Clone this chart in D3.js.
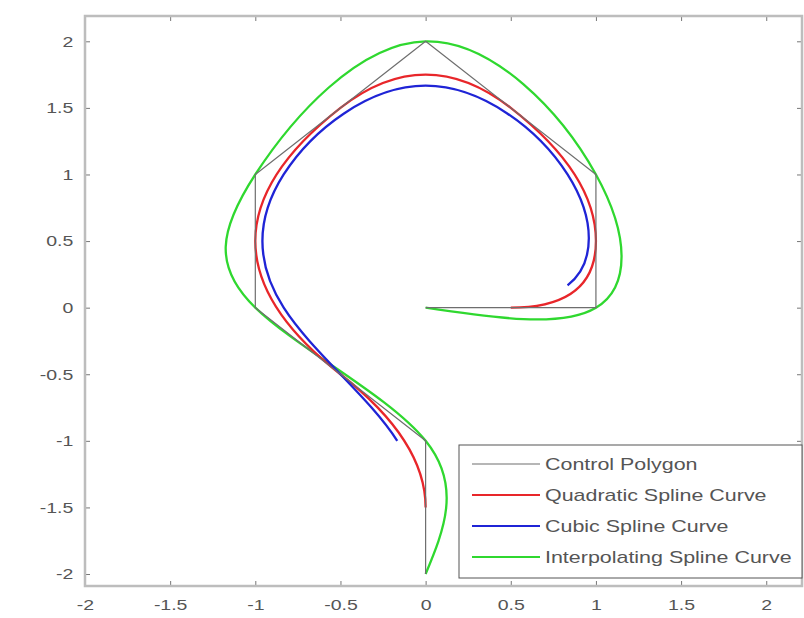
<!DOCTYPE html>
<html>
<head>
<meta charset="utf-8">
<script src="https://cdn.jsdelivr.net/npm/d3@7"></script>
<style>
  body { margin: 0; background: #fff; }
  svg { display: block; font-family: "Liberation Sans", Arial, sans-serif; }
</style>
</head>
<body>
<div id="chart"></div>
<script>
// control points of the polygon
const ctrlX = [0, 1, 1, 0, -1, -1, 0, 0];
const ctrlY = [0, 0, 1, 2, 1, 0, -1, -2];

const xTicks = [-2, -1.5, -1, -0.5, 0, 0.5, 1, 1.5, 2];
const yTicks = [-2, -1.5, -1, -0.5, 0, 0.5, 1, 1.5, 2];

const seriesNames = ["Control Polygon", "Quadratic Spline Curve", "Cubic Spline Curve", "Interpolating Spline Curve"];
const seriesColors = ["#6e6e6e", "#e8262a", "#1f24d6", "#2fd82f"];

(function() {
  const W = 804, H = 618;
  const box = {left: 85, right: 802, top: 16, bottom: 586};
  const stretch = 1.3; // the picture is wider than tall, text too

  const svg = d3.select("#chart").append("svg")
      .attr("width", W)
      .attr("height", H);

  const x = d3.scaleLinear().domain([-2, 2.21]).range([box.left, box.right]);
  const y = d3.scaleLinear().domain([-2.09, 2.19]).range([box.bottom, box.top]);

  const pts = ctrlX.map((d, i) => [d, ctrlY[i]]);

  // uniform quadratic B-spline as a d3 curve
  function QuadBSpline(context) { this._context = context; }
  QuadBSpline.prototype = {
    areaStart() {}, areaEnd() {},
    lineStart() { this._p = []; },
    point(px, py) { this._p.push([px, py]); },
    lineEnd() {
      const p = this._p, c = this._context;
      if (p.length < 3) return;
      c.moveTo((p[0][0] + p[1][0]) / 2, (p[0][1] + p[1][1]) / 2);
      for (let i = 1; i < p.length - 1; i++) {
        c.quadraticCurveTo(p[i][0], p[i][1], (p[i][0] + p[i + 1][0]) / 2, (p[i][1] + p[i + 1][1]) / 2);
      }
    }
  };
  const curveQuad = ctx => new QuadBSpline(ctx);

  const curves = [d3.curveLinear, curveQuad, d3.curveBasisOpen, d3.curveNatural];
  const widths = [1.2, 2.3, 2.3, 2.3];

  svg.append("clipPath").attr("id", "clip")
    .append("rect")
      .attr("x", box.left).attr("y", box.top)
      .attr("width", box.right - box.left).attr("height", box.bottom - box.top);

  const plot = svg.append("g").attr("clip-path", "url(#clip)");

  [3, 1, 2, 0].forEach(k => {
    plot.append("path")
      .datum(pts)
      .attr("d", d3.line()
        .x(d => x(d[0]))
        .y(d => y(d[1]))
        .curve(curves[k]))
      .attr("fill", "none")
      .attr("stroke", seriesColors[k])
      .attr("stroke-width", widths[k])
      .attr("stroke-linejoin", "round");
  });

  // axes (MATLAB style: ticks inside on all four sides)
  const axisColor = "#bdbdbd";
  const labelColor = "#555";
  const fmt = d => String(d);

  svg.append("g")
    .attr("transform", `translate(0,${box.bottom})`)
    .call(d3.axisBottom(x).tickValues(xTicks).tickSize(-5).tickPadding(13).tickSizeOuter(0).tickFormat(fmt))
    .call(g => g.select(".domain").remove());

  svg.append("g")
    .attr("transform", `translate(0,${box.top})`)
    .call(d3.axisTop(x).tickValues(xTicks).tickSize(-5).tickFormat(""))
    .call(g => g.select(".domain").remove());

  svg.append("g")
    .attr("transform", `translate(${box.left},0)`)
    .call(d3.axisLeft(y).tickValues(yTicks).tickSize(-5).tickPadding(9).tickFormat(fmt))
    .call(g => g.select(".domain").remove());

  svg.append("g")
    .attr("transform", `translate(${box.right},0)`)
    .call(d3.axisRight(y).tickValues(yTicks).tickSize(-5).tickFormat(""))
    .call(g => g.select(".domain").remove());

  svg.selectAll(".tick line").attr("stroke", "#777").attr("stroke-width", 1);
  svg.selectAll(".tick text")
    .attr("fill", labelColor)
    .attr("transform", `scale(${stretch},1)`)
    .style("font-size", "15px");

  svg.append("rect")
    .attr("x", box.left).attr("y", box.top)
    .attr("width", box.right - box.left).attr("height", box.bottom - box.top)
    .attr("fill", "none")
    .attr("stroke", axisColor)
    .attr("stroke-width", 2.5);

  // legend
  const lg = {x: 459, y: 445, w: 343, h: 133};
  const legend = svg.append("g");
  legend.append("rect")
    .attr("x", lg.x).attr("y", lg.y)
    .attr("width", lg.w).attr("height", lg.h)
    .attr("fill", "#fff")
    .attr("stroke", "#555")
    .attr("stroke-width", 1);

  const rowY = d3.scalePoint().domain(seriesNames).range([lg.y + 19, lg.y + 112]);
  seriesNames.forEach((name, i) => {
    legend.append("line")
      .attr("x1", lg.x + 13).attr("x2", lg.x + 81)
      .attr("y1", rowY(name)).attr("y2", rowY(name))
      .attr("stroke", seriesColors[i])
      .attr("stroke-width", i === 0 ? 1.2 : 2);
    legend.append("text")
      .attr("transform", `translate(${lg.x + 86},${rowY(name)}) scale(1.34,1)`)
      .attr("dy", "0.35em")
      .attr("fill", labelColor)
      .style("font-size", "16px")
      .text(name);
  });
})();
</script>
</body>
</html>
